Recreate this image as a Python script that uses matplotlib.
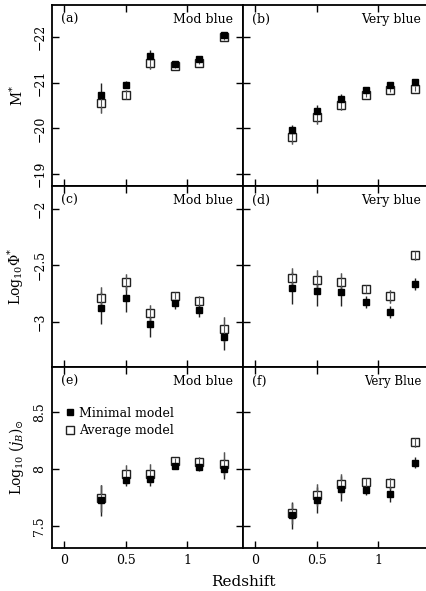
import matplotlib
matplotlib.use("Agg")
import matplotlib.pyplot as plt
from matplotlib.lines import Line2D
import numpy as np

plt.rcParams['font.family'] = ['DejaVu Serif']
plt.rcParams['mathtext.fontset'] = 'dejavuserif'

z = [0.3, 0.5, 0.7, 0.9, 1.1, 1.3]

# Panel (a) M* Mod blue
a_min = [-20.74, -20.96, -21.58, -21.40, -21.51, -22.05]
a_min_err = [0.25, 0.07, 0.13, 0.03, 0.04, 0.06]
a_avg = [-20.56, -20.74, -21.44, -21.36, -21.44, -22.00]
a_avg_err = [0.23, 0.10, 0.13, 0.03, 0.04, 0.06]
# Panel (b) M* Very blue
b_min = [-19.97, -20.38, -20.65, -20.85, -20.96, -21.02]
b_min_err = [0.10, 0.14, 0.11, 0.05, 0.06, 0.04]
b_avg = [-19.81, -20.25, -20.52, -20.74, -20.85, -20.87]
b_avg_err = [0.15, 0.15, 0.11, 0.06, 0.06, 0.05]
# Panel (c) log Phi* Mod blue
c_min = [-2.875, -2.786, -3.018, -2.830, -2.895, -3.131]
c_min_err = [0.14, 0.12, 0.116, 0.056, 0.056, 0.11]
c_avg = [-2.783, -2.647, -2.919, -2.768, -2.813, -3.063]
c_avg_err = [0.09, 0.07, 0.07, 0.03, 0.045, 0.11]
# Panel (d) log Phi* Very blue
d_min = [-2.698, -2.724, -2.736, -2.824, -2.913, -2.665]
d_min_err = [0.144, 0.13, 0.118, 0.054, 0.053, 0.05]
d_avg = [-2.612, -2.627, -2.647, -2.706, -2.771, -2.409]
d_avg_err = [0.085, 0.09, 0.079, 0.035, 0.056, 0.04]
# Panel (e) log j_B Mod blue
e_min = [7.724, 7.906, 7.915, 8.032, 8.015, 7.997]
e_min_err = [0.138, 0.056, 0.06, 0.03, 0.035, 0.088]
e_avg = [7.742, 7.953, 7.959, 8.070, 8.065, 8.047]
e_avg_err = [0.117, 0.082, 0.082, 0.03, 0.04, 0.10]
# Panel (f) log j_B Very Blue
f_min = [7.592, 7.730, 7.827, 7.818, 7.777, 8.056]
f_min_err = [0.12, 0.114, 0.11, 0.05, 0.064, 0.047]
f_avg = [7.610, 7.771, 7.865, 7.883, 7.874, 8.238]
f_avg_err = [0.094, 0.094, 0.088, 0.04, 0.05, 0.04]

panel_letters = ['(a)', '(b)', '(c)', '(d)', '(e)', '(f)']
panel_titles = ['Mod blue', 'Very blue', 'Mod blue', 'Very blue', 'Mod blue', 'Very Blue']
ylabels = [r'M$^{*}$', r'Log$_{10}\Phi^{*}$', r'Log$_{10}$ $(j_B)_{\odot}$']
yticks_rows = [[-22, -21, -20, -19], [-2, -2.5, -3], [8.5, 8, 7.5]]
yticklabels_rows = [['−22', '−21', '−20', '−19'], ['−2', '−2.5', '−3'], ['8.5', '8', '7.5']]
ylims = [(-18.74, -22.70), (-3.395, -1.80), (7.305, 8.90)]
xticks = [0, 0.5, 1]
xticklabels = ['0', '0.5', '1']

data = [(a_min, a_min_err, a_avg, a_avg_err), (b_min, b_min_err, b_avg, b_avg_err),
        (c_min, c_min_err, c_avg, c_avg_err), (d_min, d_min_err, d_avg, d_avg_err),
        (e_min, e_min_err, e_avg, e_avg_err), (f_min, f_min_err, f_avg, f_avg_err)]

W, H = 427, 591
fig = plt.figure(figsize=(W / 100, H / 100), dpi=100)

left_x = 52
pw = 191
ph = 181
row_tops = [5, 186, 367]

for i in range(6):
    r, c = divmod(i, 2)
    x0 = left_x + c * pw
    top = row_tops[r]
    ax = fig.add_axes([x0 / W, (H - top - ph) / H, pw / W, ph / H])
    mn, mne, av, ave = data[i]
    ax.errorbar(z, av, yerr=ave, fmt='none', ecolor='#444444', elinewidth=1.0, capsize=0, zorder=2)
    ax.errorbar(z, mn, yerr=mne, fmt='none', ecolor='#222222', elinewidth=1.0, capsize=0, zorder=2)
    ax.plot(z, av, linestyle='none', marker='s', markersize=5.4, markerfacecolor='white',
            markeredgecolor='#222222', markeredgewidth=1.0, zorder=3)
    ax.errorbar(z, av, yerr=ave, fmt='none', ecolor='#555555', elinewidth=0.8, capsize=0, zorder=3.5)
    ax.plot(z, mn, linestyle='none', marker='s', markersize=3.7, markerfacecolor='black',
            markeredgecolor='black', zorder=4)
    ax.set_xlim(-0.1, 1.455)
    ax.set_ylim(*ylims[r])
    ax.set_xticks(xticks)
    ax.set_yticks(yticks_rows[r])
    ax.tick_params(direction='in', length=5, width=1.0, top=True, right=True,
                   labelsize=9, pad=4)
    for s in ax.spines.values():
        s.set_linewidth(1.3)
    if r == 2:
        ax.set_xticklabels(xticklabels)
    else:
        ax.set_xticklabels([])
    if c == 0:
        ax.set_yticklabels(yticklabels_rows[r], rotation=90, va='center')
        ax.set_ylabel(ylabels[r], fontsize=10, labelpad=5)
    else:
        ax.set_yticklabels([])
    ax.text(0.045, 0.955, panel_letters[i], transform=ax.transAxes, ha='left', va='top', fontsize=9)
    if c == 0:
        ax.text(0.95, 0.955, panel_titles[i], transform=ax.transAxes, ha='right', va='top', fontsize=9)
    else:
        ax.text((427 - 243 - 6) / pw, 0.955, panel_titles[i], transform=ax.transAxes,
                ha='right', va='top', fontsize=9 if i != 5 else 8.5)
    if i == 4:
        handles = [Line2D([], [], linestyle='none', marker='s', markersize=3.7,
                          markerfacecolor='black', markeredgecolor='black'),
                   Line2D([], [], linestyle='none', marker='s', markersize=6.0,
                          markerfacecolor='none', markeredgecolor='#222222', markeredgewidth=1.0)]
        ax.legend(handles, ['Minimal model', 'Average model'], loc='upper left',
                  bbox_to_anchor=(0.03, 0.83), frameon=False, fontsize=9,
                  handlelength=0.6, handletextpad=0.4, labelspacing=0.35, borderpad=0.2)

fig.text(243 / W, 1 - 582 / H, 'Redshift', ha='center', va='center', fontsize=11)

fig.savefig('out.png', dpi=100)
